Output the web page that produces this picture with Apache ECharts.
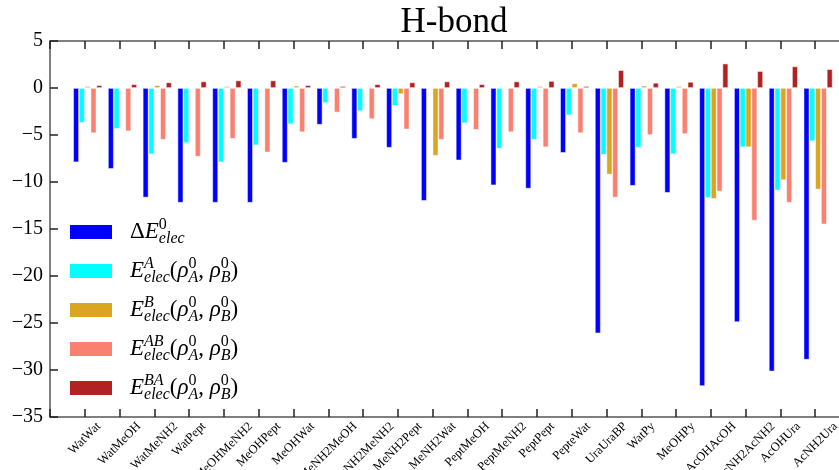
<!DOCTYPE html>
<html>
<head>
<meta charset="utf-8">
<title>H-bond</title>
<script src="https://cdn.jsdelivr.net/npm/echarts@6/dist/echarts.min.js"></script>
<style>
  html, body { margin: 0; padding: 0; background: #fff; }
  #chart { width: 839px; height: 470px; }
</style>
</head>
<body>
<div id="chart"></div>
<script>
const categories = ['WatWat', 'WatMeOH', 'WatMeNH2', 'WatPept', 'MeOHMeNH2', 'MeOHPept', 'MeOHWat',
  'MeNH2MeOH', 'MeNH2MeNH2', 'MeNH2Pept', 'MeNH2Wat', 'PeptMeOH', 'PeptMeNH2', 'PeptPept',
  'PepteWat', 'UraUraBP', 'WatPy', 'MeOHPy', 'AcOHAcOH', 'AcNH2AcNH2', 'AcOHUra', 'AcNH2Ura']

const dE0 = [-7.9, -8.6, -11.65, -12.2, -12.2, -12.2, -7.95, -3.9, -5.4, -6.35, -12.0,
  -7.7, -10.35, -10.7, -6.9, -26.1, -10.4, -11.15, -31.7, -24.9, -30.15, -28.9]
const eA = [-3.7, -4.35, -7.05, -5.85, -7.9, -6.1, -3.85, -1.6, -2.45, -1.9, -0.05,
  -3.75, -6.45, -5.5, -2.9, -7.1, -6.35, -7.05, -11.7, -6.3, -10.9, -5.65]
const eB = [0.2, 0.05, 0.3, 0.05, 0.2, 0.05, 0.25, 0.05, 0.05, -0.65, -7.2,
  0.05, 0.1, 0.2, 0.5, -9.2, 0.25, 0.2, -11.8, -6.3, -9.8, -10.8]
const eAB = [-4.8, -4.6, -5.5, -7.3, -5.4, -6.85, -4.7, -2.6, -3.3, -4.4, -5.5,
  -4.45, -4.7, -6.3, -4.8, -11.65, -5.0, -4.9, -11.0, -14.1, -12.2, -14.5]
const eBA = [0.3, 0.4, 0.6, 0.7, 0.8, 0.8, 0.3, 0.2, 0.4, 0.6, 0.7,
  0.4, 0.7, 0.75, 0.2, 1.9, 0.55, 0.65, 2.6, 1.8, 2.3, 2.0]

const yTicks = [-35, -30, -25, -20, -15, -10, -5, 0, 5]

const FONT = '"Liberation Serif", "DejaVu Serif", serif'
const barWidthUnits = 1 / 6 // bar width in index units, ticks sit 1.5 bars from the first bar

// legend labels as rich text (sub/superscripts stacked with a zero-width sup token)
const legendRich = {
  sp: { width: 13 },
  m: { fontSize: 23, fontStyle: 'italic', lineHeight: 30, fontFamily: FONT },
  r: { fontSize: 23, lineHeight: 30, fontFamily: FONT },
  sup: { fontSize: 16, fontStyle: 'italic', verticalAlign: 'top', lineHeight: 20, width: 0, fontFamily: FONT },
  sup0: { fontSize: 16, verticalAlign: 'top', lineHeight: 20, width: 0, fontFamily: FONT },
  supr: { fontSize: 16, verticalAlign: 'top', lineHeight: 22, width: 0, fontFamily: FONT },
  sub: { fontSize: 16, fontStyle: 'italic', verticalAlign: 'bottom', lineHeight: 20, fontFamily: FONT }
}
const rho = '{r|(}{m|ρ}{supr|0}{sub|A}{r|, }{m|ρ}{supr|0}{sub|B}{r|)}'
const legendText = {
  dE0: '{sp| }{r|Δ}{m|E}{sup0|0}{sub|elec}',
  eA: '{sp| }{m|E}{sup|A}{sub|elec}' + rho,
  eB: '{sp| }{m|E}{sup|B}{sub|elec}' + rho,
  eAB: '{sp| }{m|E}{sup|AB}{sub|elec}' + rho,
  eBA: '{sp| }{m|E}{sup|BA}{sub|elec}' + rho
}

// rotated tick labels: matplotlib centres the rotated box under the tick,
// so every label gets its own padding based on its width
const LABEL_SIZE = 12.5
const ctx = document.createElement('canvas').getContext('2d')
ctx.font = LABEL_SIZE + 'px ' + FONT
const xRich = {}
categories.forEach((c, i) => {
  const w = ctx.measureText(c).width
  const p = (w + LABEL_SIZE) / 2
  xRich['c' + i] = { fontSize: LABEL_SIZE, fontFamily: FONT, color: '#000', padding: [p, p, 0, 0] }
})

const xMin = -1
const xMax = 22
const shift = barWidthUnits / 2

function bars(values) {
  return values.map((v, i) => [i, v])
}

const chart = echarts.init(document.getElementById('chart'))

const axisLine = { show: true, onZero: false, lineStyle: { color: '#555', width: 1.5 } }
const axisTick = { show: true, inside: true, length: 8, lineStyle: { color: '#222', width: 1.5 } }

chart.setOption({
  animation: false,
  title: {
    text: 'H-bond',
    left: 449,
    top: 0,
    textAlign: 'center',
    textStyle: { fontFamily: FONT, fontSize: 35, fontWeight: 'normal', color: '#000' }
  },
  grid: { left: 50, right: -11, top: 41, bottom: 53, outerBoundsMode: 'none' },
  legend: {
    orient: 'vertical',
    left: 65,
    top: 212,
    itemWidth: 42,
    itemHeight: 14,
    itemGap: 9,
    icon: 'rect',
    itemStyle: { borderWidth: 0 },
    formatter: name => legendText[name],
    textStyle: { color: '#000', fontFamily: FONT, rich: legendRich }
  },
  xAxis: [
    { // bars
      type: 'value', min: xMin - shift, max: xMax - shift, show: false
    },
    { // bottom ticks + labels
      type: 'value', min: xMin, max: xMax, interval: 1, position: 'bottom',
      axisLine: axisLine, axisTick: axisTick, splitLine: { show: false },
      axisLabel: {
        rotate: 45, margin: 3, align: 'center', verticalAlign: 'middle', hideOverlap: false,
        formatter: v => {
          const i = Math.round(v)
          return (i >= 0 && i < categories.length) ? '{c' + i + '|' + categories[i] + '}' : ''
        },
        rich: xRich
      }
    },
    { // top ticks
      type: 'value', min: xMin, max: xMax, interval: 1, position: 'top',
      axisLine: axisLine, axisTick: axisTick, splitLine: { show: false },
      axisLabel: { show: false }
    }
  ],
  yAxis: {
    type: 'value',
    min: yTicks[0],
    max: yTicks[yTicks.length - 1],
    interval: 5,
    axisLine: axisLine,
    axisTick: axisTick,
    splitLine: { show: false },
    axisLabel: {
      margin: 7,
      color: '#000',
      fontFamily: FONT,
      fontSize: 20,
      formatter: v => (v < 0 ? '\u2212' + (-v) : '' + v)
    }
  },
  series: [
    { name: 'dE0', data: bars(dE0), color: '#0000ff' },
    { name: 'eA', data: bars(eA), color: '#00ffff' },
    { name: 'eB', data: bars(eB), color: '#daa520' },
    { name: 'eAB', data: bars(eAB), color: '#fa8072' },
    { name: 'eBA', data: bars(eBA), color: '#b22222' }
  ].map(s => Object.assign({
    type: 'bar',
    xAxisIndex: 0,
    barWidth: (barWidthUnits * 100) + '%',
    barGap: '0%',
    itemStyle: { color: s.color, borderColor: 'rgba(255,255,255,0.7)', borderWidth: 0.7 }
  }, s))
})
</script>
</body>
</html>
